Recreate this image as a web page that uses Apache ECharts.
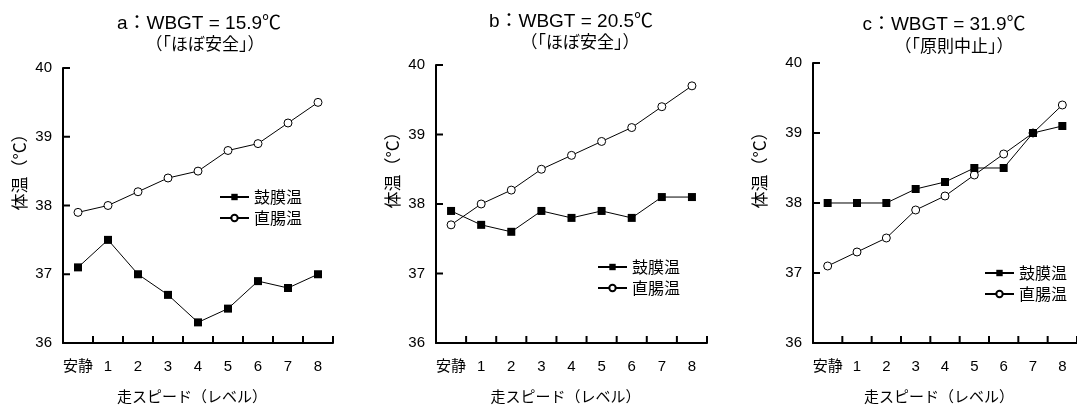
<!DOCTYPE html>
<html>
<head>
<meta charset="utf-8">
<script src="https://cdn.jsdelivr.net/npm/echarts@6/dist/echarts.min.js"></script>
<style>
  html, body { margin: 0; padding: 0; background: #fff; }
  #main { width: 1077px; height: 409px; }
</style>
</head>
<body>
<div id="main"></div>
<script>
// 走スピード（レベル）
const categories = ['安静', '1', '2', '3', '4', '5', '6', '7', '8'];

// a: WBGT 15.9
const tympanicA = [37.1, 37.5, 37.0, 36.7, 36.3, 36.5, 36.9, 36.8, 37.0];
const rectalA = [37.9, 38.0, 38.2, 38.4, 38.5, 38.8, 38.9, 39.2, 39.5];
// b: WBGT 20.5
const tympanicB = [37.9, 37.7, 37.6, 37.9, 37.8, 37.9, 37.8, 38.1, 38.1];
const rectalB = [37.7, 38.0, 38.2, 38.5, 38.7, 38.9, 39.1, 39.4, 39.7];
// c: WBGT 31.9
const tympanicC = [38.0, 38.0, 38.0, 38.2, 38.3, 38.5, 38.5, 39.0, 39.1];
const rectalC = [37.1, 37.3, 37.5, 37.9, 38.1, 38.4, 38.7, 39.0, 39.4];

const panelTitles = ['a：WBGT = 15.9℃', 'b：WBGT = 20.5℃', 'c：WBGT = 31.9℃'];
const panelSubtitles = ['（「ほぼ安全」）', '（「ほぼ安全」）', '（「原則中止」）'];
const yTicks = [36, 37, 38, 39, 40];

const FONT = '"Liberation Sans", "Noto Sans CJK JP", sans-serif';
const CJK = '"Noto Sans CJK JP", sans-serif';
const TICK = 7;

// panel layout (pixels)
const layout = [
  { left: 63, top: 68, width: 270, height: 284, t1: 199, t1y: 14, t2: 205, t2y: 35, yname: [20, 168], legend: [219, 189] },
  { left: 436, top: 65, width: 271, height: 284, t1: 571, t1y: 12, t2: 580, t2y: 33, yname: [393, 166], legend: [597, 259] },
  { left: 813, top: 63, width: 270, height: 282, t1: 944, t1y: 15, t2: 954, t2y: 37, yname: [760, 166], legend: [984, 265] }
];
const tympanic = [tympanicA, tympanicB, tympanicC];
const rectal = [rectalA, rectalB, rectalC];

// inward tick marks, placed through the axes
function yTickItem(params, api) {
  const p = api.coord([0, api.value(1)]);
  const x = p[0] - api.size([1, 0])[0] / 2;
  return { type: 'line', shape: { x1: x, y1: p[1], x2: x + TICK, y2: p[1] }, style: { stroke: '#000', lineWidth: 2 } };
}
function xTickItem(params, api) {
  const k = api.value(0);
  const p = api.coord([k, yTicks[0]]);
  const half = api.size([1, 0])[0] / 2;
  const xs = [p[0] - half];
  if (k === categories.length - 1) xs.push(p[0] + half);
  return {
    type: 'group',
    children: xs.map(x => ({ type: 'line', shape: { x1: x, y1: p[1], x2: x, y2: p[1] - TICK }, style: { stroke: '#000', lineWidth: 2 } }))
  };
}

const option = {
  animation: false,
  title: [],
  grid: [],
  xAxis: [],
  yAxis: [],
  legend: [],
  series: [],
  graphic: []
};

layout.forEach((p, i) => {
  option.title.push({
    text: panelTitles[i], left: p.t1, top: p.t1y, textAlign: 'center', padding: 0,
    textStyle: { fontFamily: FONT, fontSize: 19, fontWeight: 'normal', color: '#000' }
  });
  option.title.push({
    text: panelSubtitles[i], left: p.t2, top: p.t2y, textAlign: 'center', padding: 0,
    textStyle: { fontFamily: CJK, fontSize: 17, fontWeight: 'normal', color: '#000' }
  });
  option.grid.push({ left: p.left, top: p.top, width: p.width, height: p.height });
  option.xAxis.push({
    type: 'category', gridIndex: i, data: categories,
    name: '走スピード（レベル）', nameLocation: 'middle', nameGap: 46,
    nameTextStyle: { fontFamily: CJK, fontSize: 15, color: '#000', padding: [0, 12, 0, 0] },
    axisLine: { lineStyle: { color: '#000', width: 2 } },
    axisTick: { show: false },
    axisLabel: { interval: 0, margin: 16, fontSize: 15, color: '#000', fontFamily: FONT }
  });
  option.yAxis.push({
    type: 'value', gridIndex: i, min: yTicks[0], max: yTicks[yTicks.length - 1], interval: 1,
    axisLine: { show: true, lineStyle: { color: '#000', width: 2 } },
    axisTick: { show: false },
    axisLabel: { margin: 11, fontSize: 15, color: '#000', fontFamily: FONT },
    splitLine: { show: false }
  });
  option.legend.push({
    orient: 'vertical', left: p.legend[0], top: p.legend[1],
    data: ['鼓膜温', '直腸温'],
    itemWidth: 29, itemHeight: 8, itemGap: 5, padding: 0,
    textStyle: { fontFamily: CJK, fontSize: 16, color: '#000' },
    selectedMode: false
  });
  option.series.push({
    name: '直腸温', type: 'line', xAxisIndex: i, yAxisIndex: i, data: rectal[i],
    symbol: 'circle', symbolSize: 8,
    itemStyle: { color: '#fff', borderColor: '#000', borderWidth: 1 },
    lineStyle: { color: '#000', width: 1 }
  });
  option.series.push({
    name: '鼓膜温', type: 'line', xAxisIndex: i, yAxisIndex: i, data: tympanic[i],
    symbol: 'rect', symbolSize: 8,
    itemStyle: { color: '#000', borderColor: '#000', borderWidth: 0 },
    lineStyle: { color: '#000', width: 1 }
  });
  option.series.push({
    type: 'custom', xAxisIndex: i, yAxisIndex: i, silent: true, clip: false, z: 10,
    data: yTicks.map(v => [0, v]), renderItem: yTickItem
  });
  option.series.push({
    type: 'custom', xAxisIndex: i, yAxisIndex: i, silent: true, clip: false, z: 10,
    data: categories.map((c, k) => [k, yTicks[0]]), renderItem: xTickItem
  });
  option.graphic.push({
    type: 'text', x: p.yname[0], y: p.yname[1], rotation: Math.PI / 2,
    style: { text: '体温（°C）', fontFamily: CJK, fontSize: 17, fill: '#000', align: 'center', verticalAlign: 'middle' }
  });
});

const chart = echarts.init(document.getElementById('main'));
chart.setOption(option);
</script>
</body>
</html>
